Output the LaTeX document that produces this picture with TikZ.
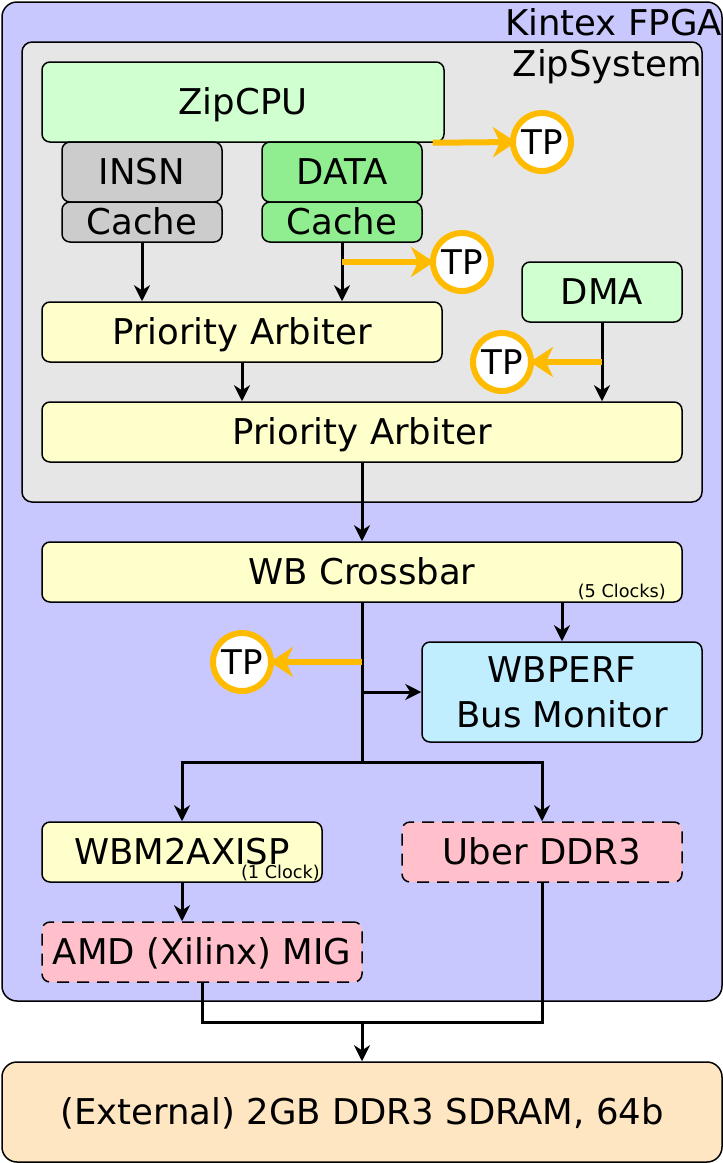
\documentclass[tikz,border=0pt]{standalone}
\usepackage{fontspec}
\setmainfont{DejaVu Sans}
\usetikzlibrary{arrows.meta,calc}
\definecolor{fpgac}{RGB}{200,200,255}
\definecolor{zsysc}{RGB}{230,230,230}
\definecolor{lgreen}{RGB}{208,255,208}
\definecolor{insnc}{RGB}{204,204,204}
\definecolor{datac}{RGB}{144,238,144}
\definecolor{arbc}{RGB}{255,255,204}
\definecolor{perfc}{RGB}{192,238,255}
\definecolor{pinkc}{RGB}{255,192,203}
\definecolor{extc}{RGB}{255,230,194}
\definecolor{tporange}{RGB}{255,187,0}
\newcommand{\bigtxt}{\fontsize{35.5}{45}\selectfont}
\newcommand{\smalltxt}{\fontsize{17.7}{21}\selectfont}
\newcommand{\tptxt}{\fontsize{34}{40}\selectfont}
\begin{document}
\begin{tikzpicture}[x=1pt,y=-1pt,
  box/.style={draw=black, line width=1.5pt, rounded corners=8pt, inner sep=0pt, align=center, font=\bigtxt, text height=25.9pt, text depth=0pt},
  dbox/.style={box, dash pattern=on 12pt off 8pt},
  tpnode/.style={circle, draw=tporange, fill=white, line width=6pt, minimum size=58pt, inner sep=0pt, font=\tptxt},
  bline/.style={draw=black, line width=3pt},
  barr/.style={bline, -{Stealth[length=16pt,width=16pt,inset=5pt]}},
  oarr/.style={draw=tporange, line width=6pt, -{Stealth[length=23pt,width=30pt,inset=7pt]}},
  lbl/.style={inner sep=0pt, font=\bigtxt},
  slbl/.style={inner sep=0pt, font=\smalltxt}
]
\useasboundingbox (0,0) rectangle (723,1163);

% containers
\node[box, fill=fpgac, rounded corners=15pt, minimum width=720pt, minimum height=999pt] (fpga) at (362,501.5) {};
\node[lbl, anchor=base east] (fpgalbl) at (722,35) {Kintex FPGA};
\node[box, fill=zsysc, rounded corners=10pt, minimum width=680pt, minimum height=460pt] (zsys) at (362,272) {};
\node[lbl, anchor=base east] (zsyslbl) at (702,76) {ZipSystem};

% blocks
\node[box, fill=lgreen, minimum width=402pt, minimum height=80pt] (zipcpu) at (243,102) {ZipCPU};
\node[box, fill=insnc, minimum width=160pt, minimum height=60pt] (insn) at (142,172) {INSN};
\node[box, fill=insnc, minimum width=160pt, minimum height=40pt] (insncache) at (142,222) {Cache};
\node[box, fill=datac, minimum width=160pt, minimum height=60pt] (data) at (342,172) {DATA};
\node[box, fill=datac, minimum width=160pt, minimum height=40pt] (datacache) at (342,222) {Cache};
\node[box, fill=arbc, minimum width=400pt, minimum height=60pt] (pa1) at (242,332) {Priority Arbiter};
\node[box, fill=lgreen, minimum width=160pt, minimum height=60pt] (dma) at (602,292) {DMA};
\node[box, fill=arbc, minimum width=640pt, minimum height=60pt] (pa2) at (362,432) {Priority Arbiter};
\node[box, fill=arbc, minimum width=640pt, minimum height=60pt] (xbar) at (362,572) {WB Crossbar};
\node[slbl, anchor=base east] (xbarclk) at (666,597) {(5 Clocks)};
\node[box, fill=perfc, minimum width=280pt, minimum height=100pt, text height=70.9pt, text depth=0pt] (wbperf) at (562,692) {WBPERF\\Bus Monitor};
\node[box, fill=arbc, minimum width=280pt, minimum height=60pt] (wbm) at (182,852) {WBM2AXISP};
\node[slbl, anchor=base east] (wbmclk) at (320,878) {(1 Clock)};
\node[dbox, fill=pinkc, minimum width=280pt, minimum height=60pt] (uber) at (542,852) {Uber DDR3};
\node[dbox, fill=pinkc, minimum width=320pt, minimum height=60pt] (mig) at (202,952) {AMD (Xilinx) MIG};
\node[box, fill=extc, rounded corners=15pt, minimum width=720pt, minimum height=100pt] (ext) at (362,1112) {(External) 2GB DDR3 SDRAM, 64b};

% test points
\node[tpnode] (tp1) at (542,142) {TP};
\node[tpnode] (tp2) at (462,262) {TP};
\node[tpnode] (tp3) at (502,362) {TP};
\node[tpnode] (tp4) at (242,662) {TP};

% black connectors
\draw[barr] (insncache.south) -- (insncache.south |- pa1.north);
\draw[barr] (datacache.south) -- (datacache.south |- pa1.north);
\draw[barr] (pa1.south) -- (pa1.south |- pa2.north);
\draw[barr] (dma.south) -- (dma.south |- pa2.north);
\draw[barr] (pa2.south) -- (xbar.north);
\draw[barr] (wbperf.north |- xbar.south) -- (wbperf.north);
\coordinate (split) at (362,762);
\draw[bline] (xbar.south) -- (split);
\draw[barr] (xbar.south |- wbperf.west) -- (wbperf.west);
\draw[barr] (split) -| (wbm.north);
\draw[barr] (split) -| (uber.north);
\draw[barr] (wbm.south) -- (wbm.south |- mig.north);
\coordinate (merge) at (362,1022);
\draw[bline] (mig.south) |- (uber.south |- merge) -- (uber.south);
\draw[barr] (merge) -- (ext.north);

% orange test-point arrows
\draw[oarr] ($(zipcpu.south east)+(-12,0)$) -- ($(tp1.west)+(6,0)$);
\draw[oarr] (datacache.south |- tp2.west) -- ($(tp2.west)+(4,0)$);
\draw[oarr] (dma.south |- tp3.east) -- ($(tp3.east)+(-4,0)$);
\draw[oarr] (xbar.south |- tp4.east) -- ($(tp4.east)+(-4,0)$);
\end{tikzpicture}
\end{document}
